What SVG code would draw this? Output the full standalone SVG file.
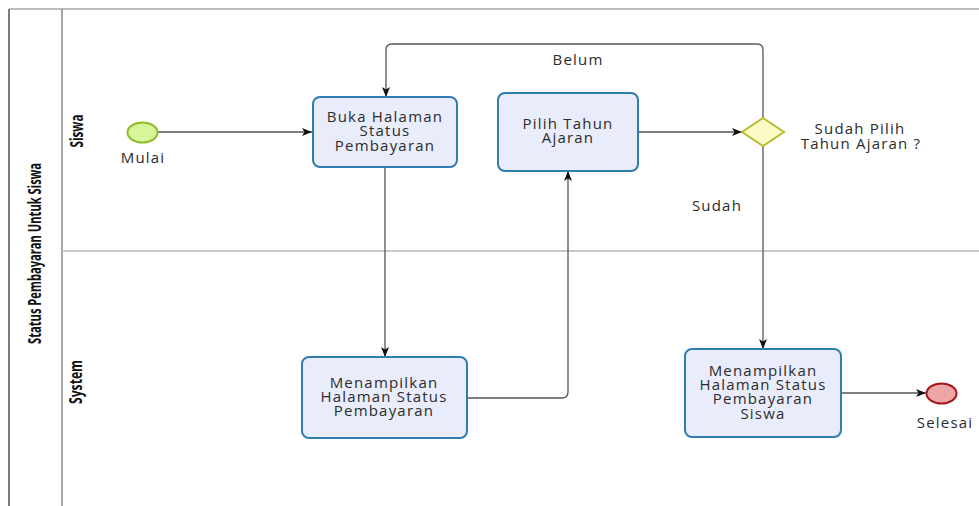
<svg xmlns="http://www.w3.org/2000/svg" width="979" height="506" viewBox="0 0 979 506">
  <style>
    .lbl { font-family: "Open Sans", "DejaVu Sans", sans-serif; font-size: 15px; letter-spacing: 1.2px; fill: #2b2b2b; text-anchor: middle; }
    .hdr { font-family: "Open Sans", "DejaVu Sans", sans-serif; font-weight: bold; fill: #111; text-anchor: middle; }
    .task { fill: #e9edfb; stroke: #2f7db3; stroke-width: 2; }
    .flow { fill: none; stroke: #555; stroke-width: 1.3; }
  </style>
  <defs>
    <marker id="arrow" viewBox="0 0 10 8" refX="10" refY="4" markerWidth="10" markerHeight="8" markerUnits="userSpaceOnUse" orient="auto">
      <path d="M0,0 L10,4 L0,8 L2.5,4 z" fill="#111"/>
    </marker>
  </defs>

  <rect width="979" height="506" fill="#ffffff"/>

  <!-- pool and lanes -->
  <g id="pool">
    <line x1="9" y1="9" x2="979" y2="9" stroke="#bdbdbd" stroke-width="2"/>
    <line x1="9" y1="9" x2="9" y2="506" stroke="#7a7a7a" stroke-width="2"/>
    <line x1="62" y1="9" x2="62" y2="506" stroke="#8a8a8a" stroke-width="1.5"/>
    <line x1="62" y1="251" x2="979" y2="251" stroke="#c8c8c8" stroke-width="2"/>
    <text class="hdr" font-size="17" transform="translate(41,253.5) rotate(-90)" textLength="181" lengthAdjust="spacingAndGlyphs">Status Pembayaran Untuk Siswa</text>
    <text class="hdr" font-size="18" transform="translate(82.5,131) rotate(-90)" textLength="33" lengthAdjust="spacingAndGlyphs">Siswa</text>
    <text class="hdr" font-size="18" transform="translate(81.5,382) rotate(-90)" textLength="44" lengthAdjust="spacingAndGlyphs">System</text>
  </g>

  <!-- sequence flows -->
  <g id="connectors">
    <path class="flow" d="M158,132 H312" marker-end="url(#arrow)"/>
    <path class="flow" d="M638,132 H742" marker-end="url(#arrow)"/>
    <path class="flow" d="M763,118 V50 Q763,44 757,44 H392 Q386,44 386,50 V97" marker-end="url(#arrow)"/>
    <path class="flow" d="M385,167 V357" marker-end="url(#arrow)"/>
    <path class="flow" d="M467,398 H562 Q568,398 568,392 V171" marker-end="url(#arrow)"/>
    <path class="flow" d="M763,146 V349" marker-end="url(#arrow)"/>
    <path class="flow" d="M841,393 H926" marker-end="url(#arrow)"/>
    <text class="lbl" x="578" y="65">Belum</text>
    <text class="lbl" x="717" y="211">Sudah</text>
  </g>

  <g id="start">
    <ellipse cx="142.5" cy="132.5" rx="15" ry="10" fill="#d8f59a" stroke="#8dbd2c" stroke-width="2"/>
    <text class="lbl" x="143" y="163">Mulai</text>
  </g>

  <g id="buka-halaman">
    <rect class="task" x="313" y="97" width="144" height="70" rx="7"/>
    <text class="lbl" x="385" y="121.5">Buka Halaman</text>
    <text class="lbl" x="385" y="136">Status</text>
    <text class="lbl" x="385" y="150.5">Pembayaran</text>
  </g>

  <g id="pilih-tahun">
    <rect class="task" x="498" y="93" width="140" height="78" rx="7"/>
    <text class="lbl" x="568" y="129">Pilih Tahun</text>
    <text class="lbl" x="568" y="143">Ajaran</text>
  </g>

  <g id="gateway">
    <polygon points="763,118 784,132 763,146 742,132" fill="#fbfbc6" stroke="#b9b934" stroke-width="2"/>
    <text class="lbl" x="860" y="134">Sudah Pilih</text>
    <text class="lbl" x="861" y="149">Tahun Ajaran ?</text>
  </g>

  <g id="menampilkan-halaman">
    <rect class="task" x="302" y="357" width="165" height="81" rx="7"/>
    <text class="lbl" x="384" y="387.5">Menampilkan</text>
    <text class="lbl" x="384" y="401.5">Halaman Status</text>
    <text class="lbl" x="384" y="416">Pembayaran</text>
  </g>

  <g id="menampilkan-siswa">
    <rect class="task" x="685" y="349" width="156" height="88" rx="7"/>
    <text class="lbl" x="763" y="376">Menampilkan</text>
    <text class="lbl" x="763" y="390">Halaman Status</text>
    <text class="lbl" x="763" y="404">Pembayaran</text>
    <text class="lbl" x="763" y="418.5">Siswa</text>
  </g>

  <g id="end">
    <ellipse cx="941.5" cy="393.5" rx="15" ry="10" fill="#eea5a5" stroke="#a3191d" stroke-width="2"/>
    <text class="lbl" x="945" y="428">Selesai</text>
  </g>
</svg>
